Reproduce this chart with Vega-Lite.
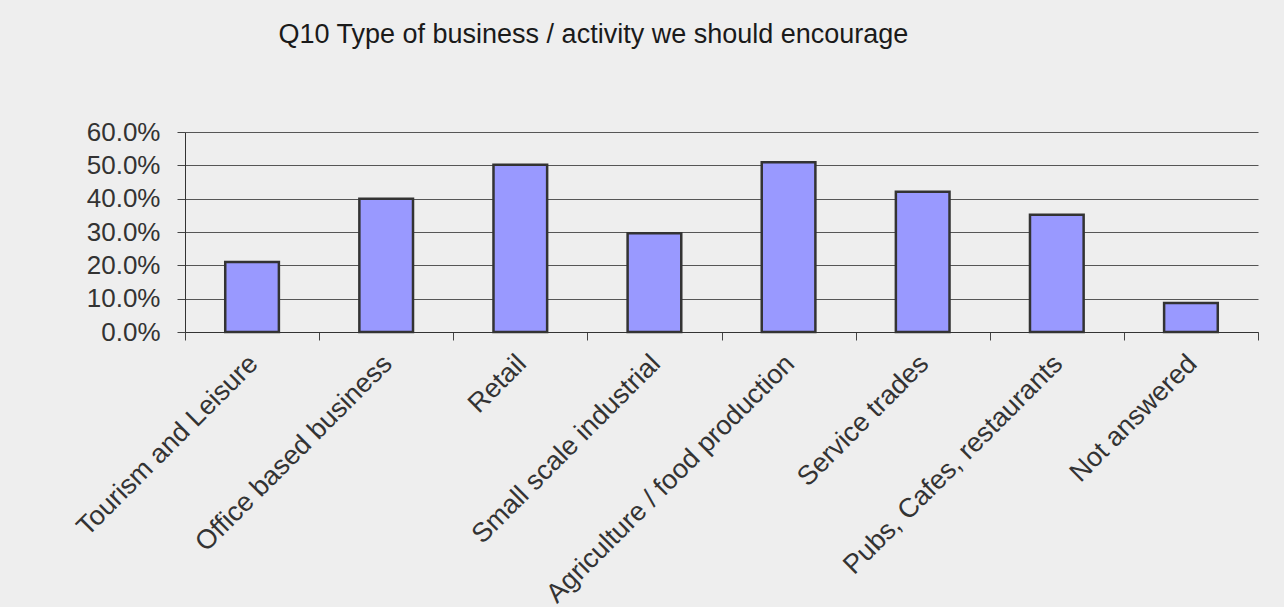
{
  "$schema": "https://vega.github.io/schema/vega-lite/v6.json",
  "width": 1073,
  "height": 200,
  "autosize": "none",
  "padding": {"left": 185, "top": 132, "right": 26, "bottom": 275},
  "background": "#eeeeee",
  "title": {
    "text": "Q10 Type of business / activity we should encourage",
    "anchor": "start",
    "dx": 207,
    "dy": -66,
    "font": "Liberation Sans",
    "fontSize": 27,
    "fontWeight": "normal",
    "color": "#1a1a1a"
  },
  "data": {
    "values": [
      {"category": "Tourism and Leisure", "pct": 0.21},
      {"category": "Office based business", "pct": 0.40},
      {"category": "Retail", "pct": 0.502},
      {"category": "Small scale industrial", "pct": 0.296},
      {"category": "Agriculture / food production", "pct": 0.509},
      {"category": "Service trades", "pct": 0.421},
      {"category": "Pubs, Cafes, restaurants", "pct": 0.352},
      {"category": "Not answered", "pct": 0.087}
    ]
  },
  "mark": {"type": "bar", "width": {"band": 0.4}, "fill": "#9999ff", "stroke": "#333333", "strokeWidth": 2.5},
  "encoding": {
    "x": {
      "field": "category",
      "type": "nominal",
      "sort": null,
      "scale": {"paddingInner": 0, "paddingOuter": 0},
      "axis": {
        "title": null,
        "labelAngle": -45,
        "labelFont": "Liberation Sans",
        "labelFontSize": 27,
        "labelColor": "#333333",
        "labelPadding": 10,
        "labelOffset": -8,
        "labelLimit": 0,
        "tickBand": "extent",
        "tickSize": 8,
        "tickColor": "#444444",
        "domainColor": "#333333",
        "grid": false
      }
    },
    "y": {
      "field": "pct",
      "type": "quantitative",
      "scale": {"domain": [0, 0.6], "nice": false},
      "axis": {
        "title": null,
        "format": ".1%",
        "values": [0, 0.1, 0.2, 0.3, 0.4, 0.5, 0.6],
        "labelFont": "Liberation Sans",
        "labelFontSize": 26,
        "labelColor": "#333333",
        "labelPadding": 17,
        "tickSize": 8,
        "tickColor": "#444444",
        "domainColor": "#333333",
        "gridColor": "#555555",
        "gridOpacity": 1,
        "gridWidth": 1
      }
    }
  },
  "config": {"view": {"stroke": null}}
}
